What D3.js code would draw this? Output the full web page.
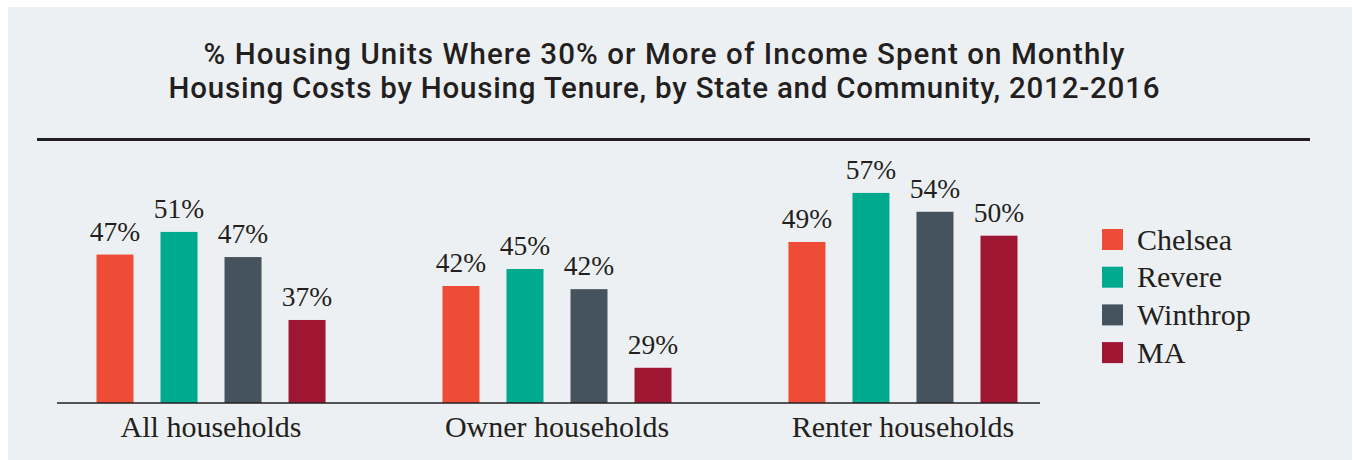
<!DOCTYPE html>
<html>
<head>
<meta charset="utf-8">
<script src="https://cdn.jsdelivr.net/npm/d3@7"></script>
<style>
	body { margin: 0; background: #ffffff; }
	svg { display: block; }
</style>
</head>
<body>
<div id="chart"></div>
<script>
// data
var groups = ['All households', 'Owner households', 'Renter households'];
var series = ['Chelsea', 'Revere', 'Winthrop', 'MA'];
var chelsea = [0.474, 0.424, 0.494];
var revere = [0.510, 0.451, 0.572];
var winthrop = [0.470, 0.419, 0.542];
var ma = [0.370, 0.294, 0.504];
var titleLines = ['% Housing Units Where 30% or More of Income Spent on Monthly',
	'Housing Costs by Housing Tenure, by State and Community, 2012-2016'];

var colors = ['#ef4c38', '#00aa8f', '#44535e', '#9e1631'];
var values = [chelsea, revere, winthrop, ma];

var dataset = [];
groups.forEach(function(g, gi){
	series.forEach(function(s, si){
		dataset.push({ group: g, series: s, value: values[si][gi] });
	});
});

var width = 1353,
	height = 460;

var svg = d3.select('#chart').append('svg')
	.attr('width', width)
	.attr('height', height);

//background panel
svg.append('rect')
	.attr('x', 8).attr('y', 7)
	.attr('width', 1344).attr('height', 453)
	.attr('fill', '#edf0f3');

//title (stretched to the widths of the wide DIN-style lettering)
var titleWidths = [921, 991];
svg.append('g').selectAll('text')
	.data(titleLines)
	.enter().append('text')
		.attr('x', 664)
		.attr('y', function(d, i){ return 64 + i * 34; })
		.attr('text-anchor', 'middle')
		.attr('font-family', 'Roboto, sans-serif')
		.attr('font-weight', 500)
		.attr('font-size', 29.5)
		.attr('fill', '#231f20')
		.attr('textLength', function(d, i){ return titleWidths[i]; })
		.attr('lengthAdjust', 'spacing')
		.text(function(d){ return d; });

svg.append('line')
	.attr('x1', 37).attr('x2', 1310)
	.attr('y1', 139.5).attr('y2', 139.5)
	.attr('stroke', '#231f20')
	.attr('stroke-width', 3);

//scales
var x0 = d3.scaleBand()
	.domain(groups)
	.range([57, 1040])
	.paddingInner(0.338)
	.paddingOuter(0.0896)
	.align(0.637);

var x1 = d3.scaleBand()
	.domain(series)
	.range([0, x0.bandwidth()])
	.paddingInner(0.422)
	.paddingOuter(0);

var y = d3.scaleLinear()
	.domain([0.238, 0.60])
	.range([403, 175.3]);

var color = d3.scaleOrdinal().domain(series).range(colors);
var fmt = d3.format('.0%');

//bars
var bars = svg.append('g');
bars.selectAll('rect')
	.data(dataset)
	.enter().append('rect')
		.attr('x', function(d){ return x0(d.group) + x1(d.series); })
		.attr('y', function(d){ return y(d.value); })
		.attr('width', x1.bandwidth())
		.attr('height', function(d){ return y.range()[0] - y(d.value); })
		.attr('fill', function(d){ return color(d.series); });

bars.selectAll('text')
	.data(dataset)
	.enter().append('text')
		.attr('x', function(d){ return x0(d.group) + x1(d.series) + x1.bandwidth() / 2; })
		.attr('y', function(d){ return y(d.value) - 14; })
		.attr('text-anchor', 'middle')
		.attr('font-family', '"Liberation Serif", serif')
		.attr('font-size', 27.5)
		.attr('fill', '#231f20')
		.text(function(d){ return fmt(d.value); });

//baseline and category labels
svg.append('line')
	.attr('x1', x0.range()[0]).attr('x2', x0.range()[1])
	.attr('y1', y.range()[0]).attr('y2', y.range()[0])
	.attr('stroke', '#231f20')
	.attr('stroke-width', 1.5);

svg.append('g').selectAll('text')
	.data(groups)
	.enter().append('text')
		.attr('x', function(d){ return x0(d) + x0.bandwidth() / 2; })
		.attr('y', 437)
		.attr('text-anchor', 'middle')
		.attr('font-family', '"Liberation Serif", serif')
		.attr('font-size', 30)
		.attr('fill', '#231f20')
		.text(function(d){ return d; });

//legend
var legend = svg.append('g').selectAll('g')
	.data(series)
	.enter().append('g')
		.attr('transform', function(d, i){ return 'translate(1102,' + (229 + i * 37.7) + ')'; });

legend.append('rect')
	.attr('width', 21)
	.attr('height', 21)
	.attr('fill', function(d){ return color(d); });

legend.append('text')
	.attr('x', 35)
	.attr('y', 20.5)
	.attr('font-family', '"Liberation Serif", serif')
	.attr('font-size', 30)
	.attr('fill', '#231f20')
	.text(function(d){ return d; });
</script>
</body>
</html>
